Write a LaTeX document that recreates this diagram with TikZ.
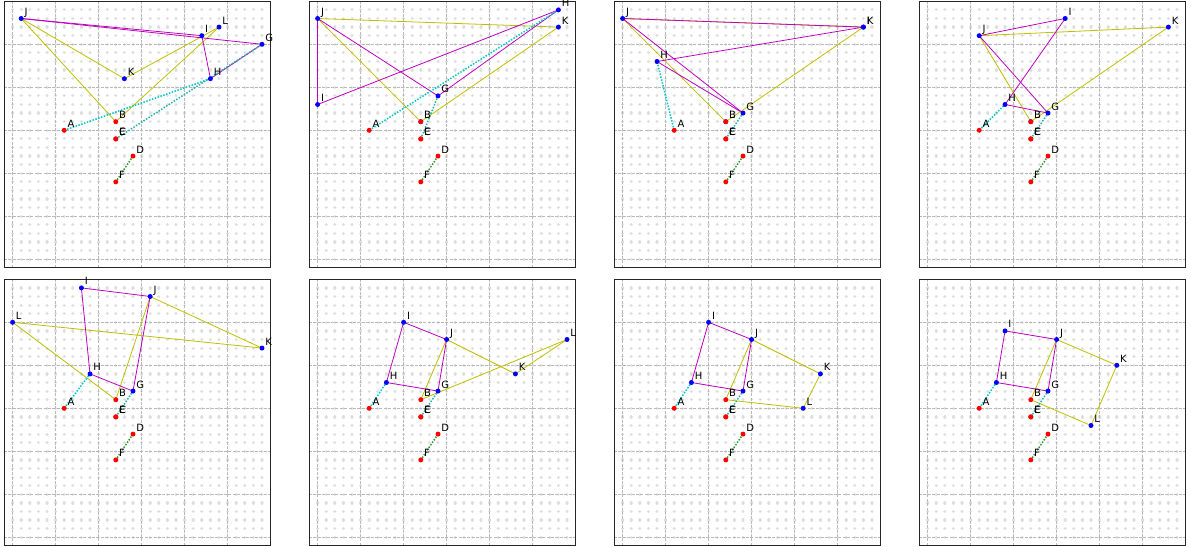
\documentclass[tikz,border=0pt]{standalone}
\usepackage{fontspec}
\setmainfont{DejaVu Sans}
\definecolor{mag}{rgb}{0.75,0,0.75}
\definecolor{yel}{rgb}{0.75,0.75,0}
\definecolor{cyA}{RGB}{0,200,205}
\definecolor{cyE}{RGB}{32,178,170}
\definecolor{grn}{RGB}{50,150,50}
\definecolor{griddot}{RGB}{222,222,222}
\definecolor{gridln}{RGB}{185,185,185}
\tikzset{
  magline/.style={draw=mag, line width=0.8pt},
  yelline/.style={draw=yel, line width=0.8pt},
  dotA/.style={draw=cyA, line width=1.5pt, dash pattern=on 1.5pt off 1.5pt},
  dotE/.style={draw=cyE, line width=1.5pt, dash pattern=on 1.5pt off 1.5pt},
  dotG/.style={draw=grn, line width=1.5pt, dash pattern=on 1.5pt off 1.5pt},
  rpt/.style={circle, fill=red, inner sep=0pt, minimum size=5pt},
  bpt/.style={circle, fill=blue, inner sep=0pt, minimum size=5pt},
  lbl/.style={anchor=base west, inner sep=0pt, font=\fontsize{10}{12}\selectfont},
  gridline/.style={draw=gridln, line width=0.7pt, dash pattern=on 3pt off 1.4pt},
  dotrow/.style={draw=griddot, line width=3.2pt, line cap=round, dash pattern=on 0.01pt off 8.59pt},
  framest/.style={draw=black!85, line width=0.9pt}
}
% #1 index, #2 shift, #3 G, #4 H, #5 I, #6 J, #7 K, #8 L
\newcommand\mypanel[8]{%
\begin{scope}[shift={(#2)}, x=43pt, y=43pt]
  \foreach \j in {0,...,29}{\draw[dotrow] (0,\j*0.2) -- (5.81,\j*0.2);}
  \foreach \k in {0,...,5}{\draw[gridline] (\k,-0.2) -- (\k,6); \draw[gridline] (-0.2,\k) -- (6,\k);}
  \draw[framest] (-0.2,-0.2) rectangle (6,6);
  \coordinate (A#1) at (1.2,3.0);
  \coordinate (B#1) at (2.4,3.2);
  \coordinate (C#1) at (2.4,2.8);
  \coordinate (D#1) at (2.8,2.4);
  \coordinate (E#1) at (2.4,2.8);
  \coordinate (F#1) at (2.4,1.8);
  \coordinate (G#1) at (#3);
  \coordinate (H#1) at (#4);
  \coordinate (I#1) at (#5);
  \coordinate (J#1) at (#6);
  \coordinate (K#1) at (#7);
  \coordinate (L#1) at (#8);
  \draw[yelline] (B#1) -- (J#1);
  \draw[yelline] (J#1) -- (K#1);
  \draw[yelline] (K#1) -- (L#1);
  \draw[yelline] (L#1) -- (B#1);
  \draw[magline] (H#1) -- (I#1);
  \draw[magline] (I#1) -- (J#1);
  \draw[magline] (J#1) -- (G#1);
  \draw[magline] (G#1) -- (H#1);
  \draw[dotA] (A#1) -- (H#1);
  \draw[dotE] (E#1) -- (G#1);
  \draw[dotG] (D#1) -- (F#1);
  \foreach \p in {G,H,I,J,K,L}{\node[bpt] (\p#1dot) at (\p#1) {};}
  \foreach \p in {A,B,C,D,E,F}{\node[rpt] (\p#1dot) at (\p#1) {};}
  \foreach \p in {A,B,C,D,E,F,G,H,I,J,K,L}{\node[lbl] (\p#1txt) at ([shift={(3.2pt,3pt)}]\p#1) {\p};}
\end{scope}}
\begin{document}
\begin{tikzpicture}
\useasboundingbox (0,0) rectangle (1191pt,546pt);
\fill[white] (0,0) rectangle (1191pt,546pt);
\mypanel{1}{12.6pt,286.7pt}{5.8,5.0}{4.6,4.2}{4.4,5.2}{0.2,5.6}{2.6,4.2}{4.8,5.4}
\mypanel{2}{317.6pt,286.7pt}{2.8,3.8}{5.6,5.8}{0,3.6}{0,5.6}{5.6,5.4}{2.4,3.2}
\mypanel{3}{622.6pt,286.7pt}{2.8,3.4}{0.8,4.6}{5.6,5.4}{0,5.6}{5.6,5.4}{2.4,3.2}
\mypanel{4}{927.6pt,286.7pt}{2.8,3.4}{1.8,3.6}{3.2,5.6}{1.2,5.2}{5.6,5.4}{2.4,3.2}
\mypanel{5}{12.6pt,8.7pt}{2.8,3.4}{1.8,3.8}{1.6,5.8}{3.2,5.6}{5.8,4.4}{0,5.0}
\mypanel{6}{317.6pt,8.7pt}{2.8,3.4}{1.6,3.6}{2.0,5.0}{3.0,4.6}{4.6,3.8}{5.8,4.6}
\mypanel{7}{622.6pt,8.7pt}{2.8,3.4}{1.6,3.6}{2.0,5.0}{3.0,4.6}{4.6,3.8}{4.2,3.0}
\mypanel{8}{927.6pt,8.7pt}{2.8,3.4}{1.6,3.6}{1.8,4.8}{3.0,4.6}{4.4,4.0}{3.8,2.6}
\end{tikzpicture}
\end{document}
